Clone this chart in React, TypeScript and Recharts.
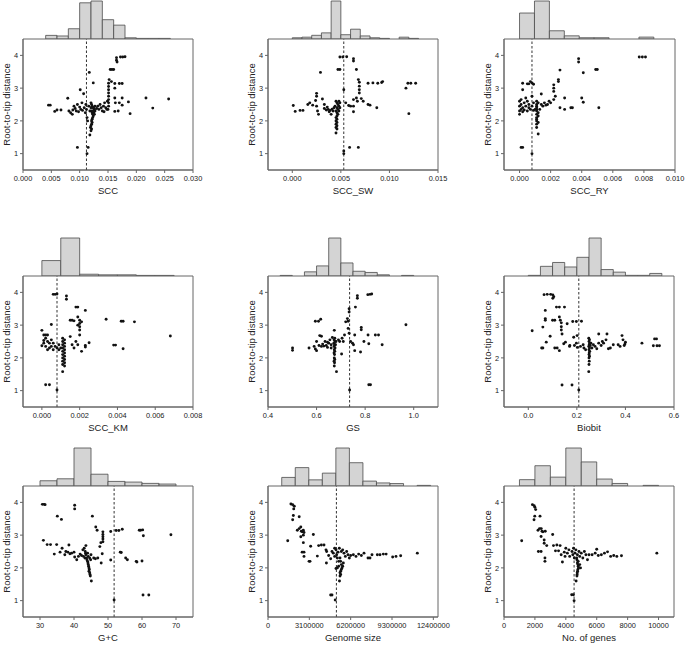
import React from "react";
import {
  ComposedChart,
  ScatterChart,
  Scatter,
  XAxis,
  YAxis,
  ReferenceArea,
  ReferenceLine,
} from "recharts";

type Pt = [number, number];

const FONT = '"Liberation Sans", Arial, Helvetica, sans-serif';

// root-to-tip distance against each genome feature
const sccPoints: Pt[] = [
  [0.0045, 2.48], [0.0048, 2.48], [0.0056, 2.29], [0.006, 2.33], [0.0067, 2.33], [0.0079, 2.69],
  [0.0081, 2.3], [0.0084, 2.25], [0.0087, 2.2], [0.0088, 2.33], [0.009, 2.45], [0.0092, 2.38],
  [0.0094, 2.3], [0.0096, 2.5], [0.0098, 2.28], [0.01, 2.42], [0.0101, 2.95], [0.0102, 2.35],
  [0.0104, 2.55], [0.0105, 2.32], [0.0107, 2.83], [0.0108, 2.4], [0.011, 2.25], [0.0111, 2.5],
  [0.0112, 2.35], [0.0113, 2.1], [0.0114, 2.0], [0.0096, 1.19], [0.0113, 1.0], [0.0115, 1.19],
  [0.0117, 3.48], [0.0124, 3.16], [0.0118, 1.57], [0.0116, 2.45], [0.0118, 2.3],
  [0.012, 2.55], [0.0121, 2.5], [0.0122, 2.45], [0.0123, 2.42], [0.0124, 2.4], [0.0125, 2.38],
  [0.0126, 2.35], [0.0127, 2.3], [0.012, 2.4], [0.0121, 2.3], [0.0122, 2.25], [0.0123, 2.2],
  [0.0124, 2.15], [0.0123, 2.1], [0.0122, 2.05], [0.0121, 2.0], [0.0122, 1.95], [0.0121, 1.9],
  [0.012, 1.85], [0.0119, 1.8], [0.0121, 1.75], [0.012, 1.7], [0.0125, 2.25], [0.0126, 2.2],
  [0.0124, 2.3], [0.0127, 2.45],
  [0.013, 2.38], [0.0132, 2.45], [0.0134, 2.35], [0.0136, 2.5], [0.0138, 2.4], [0.014, 2.3],
  [0.0142, 2.45], [0.0144, 2.55], [0.0146, 2.4], [0.0148, 2.35], [0.0143, 2.28],
  [0.0151, 2.45], [0.0151, 2.55], [0.0151, 2.65], [0.0151, 2.75], [0.0151, 2.85], [0.0151, 2.95],
  [0.0151, 3.05], [0.0151, 3.15], [0.0152, 3.26], [0.015, 2.35], [0.0149, 2.6],
  [0.0154, 3.57], [0.0157, 3.57], [0.016, 3.57], [0.0165, 3.93], [0.0165, 3.85], [0.0166, 3.8],
  [0.0172, 3.95], [0.0176, 3.95], [0.018, 3.96], [0.0156, 3.2], [0.0162, 3.14], [0.017, 3.14],
  [0.0175, 3.14], [0.0162, 3.0], [0.0162, 2.7], [0.0175, 2.7], [0.0163, 2.55], [0.017, 2.55],
  [0.0175, 2.48], [0.0186, 2.58], [0.0189, 2.22], [0.0217, 2.7], [0.0229, 2.39], [0.0257, 2.67],
  [0.0162, 2.29], [0.0168, 2.3],
];

const swPoints: Pt[] = [
  [0.0001, 2.47], [0.0003, 2.29], [0.0008, 2.32], [0.0011, 2.32], [0.0016, 2.5], [0.0018, 2.55],
  [0.0021, 2.48], [0.0024, 2.62], [0.0025, 2.45], [0.0026, 2.3], [0.0027, 2.2], [0.0029, 3.48],
  [0.0025, 2.84], [0.0025, 2.75], [0.0031, 2.67], [0.0033, 2.5], [0.0036, 2.42], [0.0038, 2.28],
  [0.004, 2.2], [0.0033, 2.38], [0.0035, 2.33], [0.0037, 2.35], [0.0039, 2.32], [0.0041, 2.36],
  [0.0042, 2.3], [0.0043, 2.4], [0.0044, 2.45],
  [0.0045, 2.6], [0.0046, 2.55], [0.0047, 2.5], [0.0048, 2.45], [0.0049, 2.4], [0.0046, 2.4],
  [0.0047, 2.35], [0.0045, 2.3], [0.0046, 2.25], [0.0047, 2.2], [0.0046, 2.15], [0.0045, 2.1],
  [0.0046, 2.05], [0.0045, 2.0], [0.0046, 1.95], [0.0045, 1.9], [0.0046, 1.85], [0.0045, 1.8],
  [0.0046, 1.75], [0.0045, 1.63], [0.0048, 2.3], [0.0049, 2.55], [0.0048, 2.6],
  [0.0047, 3.57], [0.0049, 3.57], [0.0049, 3.95], [0.0052, 3.95], [0.0056, 3.96], [0.0053, 1.0],
  [0.0053, 1.08], [0.0053, 2.95], [0.0059, 1.19], [0.0068, 1.19], [0.0063, 3.9], [0.0063, 3.83],
  [0.0066, 3.57], [0.0068, 3.26], [0.0069, 3.18], [0.0069, 3.06], [0.0069, 2.95], [0.0069, 2.85],
  [0.0063, 2.65], [0.0063, 2.45], [0.0063, 2.28], [0.0066, 2.7], [0.0067, 2.6], [0.0071, 2.68],
  [0.0073, 2.6], [0.0058, 2.47], [0.0078, 3.15], [0.0083, 3.16], [0.0088, 3.15], [0.0092, 3.17],
  [0.0093, 3.2], [0.0078, 2.5], [0.008, 2.48], [0.0087, 2.4], [0.0117, 3.0], [0.0119, 3.15],
  [0.0122, 3.15], [0.0127, 3.15], [0.012, 2.22], [0.0055, 2.55], [0.006, 2.45],
];

const ryPoints: Pt[] = [
  [0.0001, 1.19], [0.0002, 1.19], [0.0008, 1.0], [0.0002, 2.95], [0.0002, 3.15], [0.0005, 3.13],
  [0.0006, 3.13], [0.0008, 3.16], [0.0009, 3.12], [0.0007, 3.2],
  [0.0, 2.2], [0.0, 2.3], [0.0, 2.45], [0.0, 2.6], [0.0001, 2.35], [0.0001, 2.5], [0.0001, 2.65],
  [0.0002, 2.28], [0.0002, 2.4], [0.0003, 2.55], [0.0003, 2.33], [0.0004, 2.7], [0.0004, 2.45],
  [0.0005, 2.3], [0.0005, 2.6], [0.0006, 2.4], [0.0006, 2.5], [0.0007, 2.35], [0.0008, 2.75],
  [0.0008, 2.45], [0.0009, 2.32], [0.0009, 2.55],
  [0.0011, 2.6], [0.0011, 2.5], [0.0011, 2.45], [0.0011, 2.4], [0.0011, 2.35], [0.0011, 2.3],
  [0.0011, 2.2], [0.0011, 2.1], [0.0011, 2.05], [0.0011, 2.0], [0.0011, 1.9], [0.0011, 1.8],
  [0.0012, 1.6], [0.0012, 2.25], [0.0012, 2.55], [0.001, 2.35], [0.0012, 2.15], [0.0012, 1.95],
  [0.0014, 2.82], [0.0014, 2.5], [0.0015, 2.45], [0.0016, 2.55], [0.0017, 2.48], [0.0018, 2.5],
  [0.0019, 2.6], [0.002, 2.55], [0.0013, 2.35],
  [0.0022, 3.1], [0.0022, 3.0], [0.0022, 2.9], [0.0023, 2.75], [0.0022, 2.65], [0.0025, 3.26],
  [0.0025, 3.2], [0.0026, 3.55], [0.0026, 2.4], [0.0029, 2.7], [0.0029, 2.35], [0.0033, 2.4],
  [0.0034, 2.4], [0.0038, 3.9], [0.0038, 3.8], [0.0041, 3.47], [0.004, 2.7], [0.0041, 2.57],
  [0.0049, 3.57], [0.005, 3.57], [0.0051, 2.4], [0.0077, 3.95], [0.0079, 3.95], [0.0081, 3.95],
];

const kmPoints: Pt[] = [
  [0.0, 2.84], [0.0001, 2.7], [0.0001, 2.53], [0.0, 2.37], [0.0002, 1.18], [0.0004, 1.18],
  [0.0008, 1.02], [0.0006, 3.94], [0.0007, 3.94], [0.0008, 3.95], [0.0005, 3.02],
  [0.0001, 2.45], [0.0002, 2.6], [0.0002, 2.35], [0.0003, 2.7], [0.0003, 2.5], [0.0004, 2.3],
  [0.0004, 2.45], [0.0005, 2.55], [0.0005, 2.35], [0.0006, 2.25], [0.0006, 2.45], [0.0007, 2.35],
  [0.0008, 2.3], [0.0009, 2.25], [0.0009, 2.4], [0.001, 2.3], [0.0003, 2.25], [0.0002, 2.7],
  [0.0011, 2.6], [0.0012, 2.55], [0.0011, 2.5], [0.0012, 2.45], [0.0011, 2.4], [0.0012, 2.35],
  [0.0011, 2.3], [0.0012, 2.25], [0.0011, 2.2], [0.0012, 2.15], [0.0011, 2.1], [0.0012, 2.05],
  [0.0011, 2.0], [0.0012, 1.95], [0.0011, 1.9], [0.0012, 1.85], [0.0011, 1.8], [0.0012, 1.75],
  [0.0011, 1.58],
  [0.0013, 3.89], [0.0013, 3.79], [0.0015, 3.15], [0.0016, 3.15], [0.0017, 3.13], [0.0018, 3.55],
  [0.0019, 3.55], [0.0019, 3.25], [0.002, 3.15], [0.002, 3.05], [0.002, 2.95], [0.002, 2.85],
  [0.002, 2.7], [0.0019, 3.0], [0.0018, 2.5], [0.0019, 2.4], [0.0017, 2.3], [0.0021, 3.1],
  [0.0021, 2.2], [0.0016, 2.4], [0.0015, 2.65], [0.0023, 3.45], [0.0023, 2.33], [0.0023, 2.38],
  [0.0025, 2.46], [0.0034, 3.18], [0.0038, 2.39], [0.0039, 2.39], [0.0042, 3.12], [0.0043, 3.12],
  [0.0043, 2.28], [0.0049, 3.1], [0.0068, 2.67],
];

const gsPoints: Pt[] = [
  [0.501, 2.3], [0.501, 2.23], [0.569, 2.3], [0.595, 3.12], [0.608, 3.12], [0.617, 3.18],
  [0.595, 2.27], [0.6, 2.22], [0.613, 2.68], [0.62, 2.66],
  [0.59, 2.35], [0.6, 2.5], [0.61, 2.38], [0.62, 2.35], [0.625, 2.42], [0.63, 2.36], [0.635, 2.5],
  [0.64, 2.38], [0.645, 2.32], [0.65, 2.45], [0.655, 2.55], [0.66, 2.4], [0.665, 2.62],
  [0.66, 2.3], [0.645, 2.48],
  [0.673, 2.84], [0.675, 2.6], [0.672, 2.55], [0.676, 2.5], [0.671, 2.45], [0.674, 2.4],
  [0.672, 2.35], [0.676, 2.3], [0.673, 2.25], [0.675, 2.2], [0.672, 2.15], [0.674, 2.1],
  [0.673, 2.0], [0.675, 1.95], [0.672, 1.9], [0.674, 1.85], [0.673, 1.75], [0.682, 1.58],
  [0.678, 2.4], [0.68, 2.5],
  [0.69, 2.55], [0.695, 2.5], [0.703, 2.12], [0.71, 2.5], [0.72, 3.1], [0.727, 3.2], [0.73, 3.12],
  [0.734, 3.5], [0.734, 3.4], [0.73, 2.9], [0.734, 2.75], [0.736, 1.02], [0.74, 2.5], [0.748, 2.45],
  [0.752, 2.4], [0.757, 2.7], [0.757, 2.22], [0.76, 3.55], [0.768, 3.9], [0.768, 3.82],
  [0.784, 2.93], [0.784, 2.86], [0.781, 2.18], [0.795, 2.5], [0.811, 3.93], [0.82, 3.94],
  [0.827, 3.95], [0.812, 2.7], [0.815, 2.43], [0.842, 2.7], [0.855, 2.7], [0.87, 2.4],
  [0.815, 1.18], [0.822, 1.18], [0.968, 3.01], [0.715, 2.7], [0.705, 2.6],
];

const biobitPoints: Pt[] = [
  [0.016, 2.83], [0.055, 2.3], [0.06, 2.3], [0.06, 2.94], [0.07, 3.15], [0.07, 3.2], [0.07, 3.45],
  [0.065, 3.93], [0.078, 3.94], [0.092, 3.94], [0.101, 3.92], [0.105, 3.87], [0.101, 3.82],
  [0.074, 2.48], [0.09, 2.66], [0.1, 3.15], [0.109, 3.15], [0.109, 2.3], [0.119, 2.3],
  [0.116, 3.55], [0.128, 3.55], [0.149, 3.55], [0.128, 3.25], [0.132, 3.15], [0.136, 3.07],
  [0.136, 2.95], [0.136, 2.85], [0.139, 2.73], [0.139, 1.17], [0.18, 1.17], [0.128, 2.22],
  [0.146, 2.43], [0.153, 2.48], [0.16, 3.04], [0.171, 2.38], [0.183, 3.11], [0.187, 2.63],
  [0.198, 3.11], [0.201, 2.68], [0.198, 2.45], [0.202, 2.32], [0.208, 1.02], [0.219, 3.12],
  [0.226, 2.4], [0.229, 2.3], [0.236, 2.25], [0.17, 2.35], [0.19, 2.38], [0.215, 2.35],
  [0.249, 2.6], [0.252, 2.55], [0.25, 2.5], [0.253, 2.45], [0.251, 2.4], [0.249, 2.35],
  [0.252, 2.3], [0.25, 2.25], [0.253, 2.2], [0.251, 2.15], [0.25, 2.1], [0.252, 2.05],
  [0.25, 2.0], [0.251, 1.9], [0.25, 1.8], [0.249, 1.58], [0.255, 2.38], [0.258, 2.45],
  [0.262, 2.3], [0.268, 2.4], [0.275, 2.35], [0.282, 2.28], [0.29, 2.73], [0.29, 2.45],
  [0.3, 2.38], [0.305, 2.5], [0.31, 2.45], [0.324, 2.73], [0.32, 2.55], [0.33, 2.28],
  [0.338, 2.3], [0.35, 2.4], [0.37, 2.4], [0.378, 2.35], [0.386, 2.68], [0.39, 2.55],
  [0.395, 2.38], [0.398, 2.42], [0.4, 2.48], [0.468, 2.45], [0.515, 2.37], [0.52, 2.58],
  [0.528, 2.58], [0.53, 2.37], [0.54, 2.37],
];

const gcPoints: Pt[] = [
  [30.7, 3.94], [31.2, 3.94], [31.5, 3.93], [31.0, 2.84], [32.1, 2.71], [33.1, 2.71], [34.2, 2.42],
  [34.9, 2.71], [35.1, 3.58], [35.9, 2.48], [36.3, 3.48], [36.5, 2.6], [37.3, 2.4], [37.6, 2.5],
  [38.2, 2.48], [38.8, 2.43], [38.5, 2.7], [39.3, 2.45], [40.0, 2.48], [40.2, 2.33], [40.2, 3.91],
  [40.2, 3.8], [40.8, 2.25], [41.3, 2.35], [41.8, 2.42], [42.2, 2.38], [42.6, 2.55], [43.0, 2.6],
  [42.8, 2.35], [43.4, 2.45], [43.2, 2.3], [43.5, 2.68],
  [43.3, 2.5], [43.5, 2.4], [43.7, 2.3], [43.8, 2.25], [44.0, 2.2], [44.1, 2.15], [44.2, 2.1],
  [44.3, 2.05], [44.4, 2.0], [44.5, 1.95], [44.4, 1.9], [44.6, 1.85], [44.7, 1.8], [44.8, 1.75],
  [45.1, 1.6], [44.0, 2.45], [44.2, 2.35], [44.6, 2.3], [44.9, 2.25], [45.0, 2.4],
  [45.4, 3.58], [45.8, 2.3], [46.3, 2.28], [47.0, 2.3], [46.4, 3.25], [46.8, 3.15], [47.6, 2.65],
  [47.9, 2.77], [48.5, 3.1], [48.5, 3.02], [48.5, 2.95], [48.5, 2.88], [48.5, 2.8], [48.0, 2.15],
  [48.3, 2.43], [50.8, 2.24], [50.8, 3.11], [51.8, 1.02], [52.4, 3.14], [53.2, 3.14], [53.6, 2.48],
  [53.9, 2.47], [54.2, 3.18], [55.2, 2.3], [55.7, 2.25], [58.3, 2.2], [58.5, 2.18], [59.2, 3.15],
  [59.6, 3.15], [60.2, 3.16], [60.0, 2.21], [60.4, 2.98], [60.3, 1.17], [62.0, 1.17], [68.5, 3.01],
];

const sizePoints: Pt[] = [
  [1.48e6, 2.83], [1.72e6, 3.95], [1.85e6, 3.93], [1.97e6, 3.88], [1.93e6, 3.8], [1.85e6, 3.47],
  [1.9e6, 3.6], [2.34e6, 3.56], [2.2e6, 3.15], [2.34e6, 3.2], [2.46e6, 3.25], [2.5e6, 3.12],
  [2.58e6, 3.1], [2.7e6, 3.08], [2.65e6, 3.15], [2.46e6, 2.95], [2.65e6, 3.0], [2.65e6, 2.77],
  [2.56e6, 2.48], [2.7e6, 2.48], [2.7e6, 2.35], [3.08e6, 2.2], [3.15e6, 2.2], [3.2e6, 2.66],
  [3.4e6, 3.02], [3.7e6, 2.36], [3.8e6, 2.68], [4.0e6, 2.7], [4.2e6, 2.7], [4.35e6, 2.55],
  [4.4e6, 2.5], [4.38e6, 2.15], [4.55e6, 2.38], [4.7e6, 2.28], [4.7e6, 1.17], [4.8e6, 1.17],
  [5.04e6, 1.02],
  [4.8e6, 2.5], [4.9e6, 2.45], [5.0e6, 2.6], [5.0e6, 2.35], [5.1e6, 2.55], [5.15e6, 2.4],
  [5.2e6, 2.3], [5.25e6, 2.48], [5.3e6, 2.2], [5.35e6, 2.6], [5.5e6, 2.5], [5.6e6, 2.55],
  [5.7e6, 2.45], [5.8e6, 2.35], [5.9e6, 2.5], [6.0e6, 2.4], [6.1e6, 2.3], [5.3e6, 2.05],
  [5.2e6, 2.0], [5.1e6, 1.98],
  [5.4e6, 2.3], [5.45e6, 2.2], [5.5e6, 2.1], [5.55e6, 2.0], [5.5e6, 1.95], [5.45e6, 1.9],
  [5.4e6, 1.85], [5.45e6, 1.8], [5.4e6, 1.75], [5.36e6, 1.6], [5.6e6, 2.05], [5.65e6, 2.15],
  [6.2e6, 2.38], [6.4e6, 2.4], [6.6e6, 2.35], [6.8e6, 2.42], [7.0e6, 2.38], [7.2e6, 2.45],
  [7.5e6, 2.3], [7.65e6, 2.3], [7.8e6, 2.4], [8.2e6, 2.4], [8.4e6, 2.4], [8.65e6, 2.42],
  [8.86e6, 2.42], [9.35e6, 2.33], [9.6e6, 2.35], [9.95e6, 2.37], [11.2e6, 2.45],
];

const genePoints: Pt[] = [
  [1145, 2.83], [1840, 3.93], [1950, 3.9], [2000, 3.85], [2050, 3.78], [1944, 3.47], [1990, 3.58],
  [2330, 3.58], [2200, 3.15], [2300, 3.2], [2410, 3.2], [2460, 3.12], [2520, 3.1], [2670, 3.12],
  [2400, 2.96], [2225, 2.5], [2400, 2.5], [2600, 2.85], [2600, 2.75], [2650, 2.3], [2650, 2.2],
  [2765, 2.68], [3150, 3.02], [3200, 2.68], [3420, 2.7], [3630, 2.68], [3330, 2.52], [3530, 2.52],
  [3780, 2.18], [3900, 2.48], [3700, 2.4], [3950, 2.35], [4000, 2.6], [4100, 2.45], [4200, 2.55],
  [4250, 2.35], [4380, 1.18], [4490, 1.18], [4535, 1.0],
  [4400, 2.5], [4450, 2.4], [4500, 2.6], [4550, 2.3], [4600, 2.45], [4650, 2.55], [4700, 2.3],
  [4750, 2.4], [4800, 2.2], [4850, 2.5], [4900, 2.35], [5000, 2.45], [5100, 2.3], [5200, 2.5],
  [5300, 2.4], [5400, 2.25], [5500, 2.4],
  [4720, 2.25], [4750, 2.15], [4780, 2.1], [4800, 2.05], [4820, 2.0], [4780, 1.95], [4760, 1.9],
  [4740, 1.85], [4730, 1.8], [4720, 1.75], [4665, 1.6], [4900, 2.1], [4950, 2.0],
  [5700, 2.4], [5900, 2.45], [6000, 2.57], [6100, 2.38], [6300, 2.4], [6500, 2.45], [6700, 2.49],
  [6900, 2.35], [7100, 2.38], [7300, 2.35], [7600, 2.37], [9890, 2.45],
];

// marginal histograms: bin edges and counts
const sccBins = [0.004, 0.006, 0.008, 0.01, 0.012, 0.014, 0.016, 0.018, 0.02, 0.022, 0.024, 0.026];
const sccCounts = [6, 5, 17, 60, 63, 32, 23, 2, 1, 1, 1];
const swBins = [0, 0.001, 0.002, 0.003, 0.004, 0.005, 0.006, 0.007, 0.008, 0.009, 0.01, 0.011, 0.012, 0.013];
const swCounts = [2, 3, 6, 10, 62, 7, 16, 5, 2, 1, 0, 3, 1];
const ryBins = [0, 0.00096, 0.00192, 0.00288, 0.00384, 0.0048, 0.00576, 0.00672, 0.00768, 0.00864];
const ryCounts = [41, 60, 13, 5, 2, 2, 0, 0, 3];
const kmBins = [0, 0.001, 0.002, 0.003, 0.004, 0.005, 0.006, 0.007];
const kmCounts = [26, 64, 3, 2, 2, 1, 1];
const gsBins = [0.45, 0.5, 0.55, 0.6, 0.65, 0.7, 0.75, 0.8, 0.85, 0.9, 0.95, 1.0];
const gsCounts = [1, 0, 7, 17, 64, 22, 8, 6, 2, 0, 1];
const biobitBins = [0, 0.05, 0.1, 0.15, 0.2, 0.25, 0.3, 0.35, 0.4, 0.45, 0.5, 0.55];
const biobitCounts = [1, 15, 21, 14, 29, 59, 10, 6, 1, 1, 4];
const gcBins = [30, 35, 40, 45, 50, 55, 60, 65, 70];
const gcCounts = [8, 11, 58, 18, 7, 6, 4, 3];
const sizeBins = [1.03e6, 2.045e6, 3.06e6, 4.075e6, 5.09e6, 6.105e6, 7.12e6, 8.135e6, 9.15e6, 10.165e6, 11.18e6, 12.195e6];
const sizeCounts = [14, 30, 10, 21, 62, 38, 8, 5, 4, 0, 1];
const geneBins = [1000, 2000, 3000, 4000, 5000, 6000, 7000, 8000, 9000, 10000];
const geneCounts = [10, 32, 14, 60, 38, 11, 4, 0, 1];

// x-axis ticks
const sccTicks = [0, 0.005, 0.01, 0.015, 0.02, 0.025, 0.03];
const swTicks = [0, 0.005, 0.01, 0.015];
const ryTicks = [0, 0.002, 0.004, 0.006, 0.008, 0.01];
const kmTicks = [0, 0.002, 0.004, 0.006, 0.008];
const gsTicks = [0.4, 0.6, 0.8, 1.0];
const biobitTicks = [0, 0.2, 0.4, 0.6];
const gcTicks = [30, 40, 50, 60, 70];
const sizeTicks = [0, 3100000, 6200000, 9300000, 12400000];
const geneTicks = [0, 2000, 4000, 6000, 8000, 10000];
const yTicks = [1, 2, 3, 4];

const panels = [
  { label: "SCC", domain: [0, 0.03], ticks: sccTicks, digits: 3, points: sccPoints, bins: sccBins, counts: sccCounts, mark: 0.0112 },
  { label: "SCC_SW", domain: [-0.0025, 0.015], ticks: swTicks, digits: 3, points: swPoints, bins: swBins, counts: swCounts, mark: 0.0053 },
  { label: "SCC_RY", domain: [-0.001, 0.01], ticks: ryTicks, digits: 3, points: ryPoints, bins: ryBins, counts: ryCounts, mark: 0.0008 },
  { label: "SCC_KM", domain: [-0.001, 0.008], ticks: kmTicks, digits: 3, points: kmPoints, bins: kmBins, counts: kmCounts, mark: 0.0008 },
  { label: "GS", domain: [0.4, 1.1], ticks: gsTicks, digits: 1, points: gsPoints, bins: gsBins, counts: gsCounts, mark: 0.736 },
  { label: "Biobit", domain: [-0.1, 0.6], ticks: biobitTicks, digits: 1, points: biobitPoints, bins: biobitBins, counts: biobitCounts, mark: 0.208 },
  { label: "G+C", domain: [25, 75], ticks: gcTicks, digits: 0, points: gcPoints, bins: gcBins, counts: gcCounts, mark: 51.8 },
  { label: "Genome size", domain: [0, 12750000], ticks: sizeTicks, digits: 0, points: sizePoints, bins: sizeBins, counts: sizeCounts, mark: 5.13e6 },
  { label: "No. of genes", domain: [0, 11000], ticks: geneTicks, digits: 0, points: genePoints, bins: geneBins, counts: geneCounts, mark: 4535 },
];

// plot box position on the page: left, top, width
const slots = [
  [23, 39, 170], [268, 39, 170], [504, 39, 171],
  [23, 276, 170], [268, 276, 170], [504, 276, 170],
  [23, 486, 170], [268, 486, 170], [504, 486, 170],
];

const AXIS_W = 22;
const RIGHT = 18;
const HIST_H = 40;
const BOX_H = 131;
const XAXIS_H = 30;
const LINE = "#666";
const INK = "#222";

const Dot = (props: any) => <circle cx={props.cx} cy={props.cy} r={1.45} fill="#111" />;

function Panel({ p, slot }: { p: (typeof panels)[number]; slot: number[] }) {
  const [left, top, w] = slot;
  const chartW = AXIS_W + w + RIGHT;
  const maxN = Math.max(...p.counts);
  const bars = p.counts
    .map((n, i) => ({ x1: p.bins[i], x2: p.bins[i + 1], n }))
    .filter((b) => b.n > 0);
  const data = p.points.map(([x, y]) => ({ x, y }));

  return (
    <div style={{ position: "absolute", left: left - AXIS_W, top: top - HIST_H, width: chartW }}>
      <div style={{ position: "absolute", left: 0, top: 0 }}>
        <ComposedChart width={chartW} height={HIST_H} margin={{ top: 2, right: RIGHT, left: AXIS_W, bottom: 0 }}>
          <XAxis type="number" dataKey="x" domain={p.domain} allowDataOverflow hide />
          <YAxis type="number" domain={[0, maxN]} allowDataOverflow hide />
          {bars.map((b, i) => (
            <ReferenceArea
              key={i}
              x1={b.x1}
              x2={b.x2}
              y1={0}
              y2={b.n}
              fill="#d4d4d4"
              fillOpacity={1}
              stroke="#4a4a4a"
              strokeWidth={0.8}
              ifOverflow="visible"
            />
          ))}
        </ComposedChart>
      </div>
      <div style={{ position: "absolute", left: 0, top: HIST_H - 2 }}>
        <ScatterChart width={chartW} height={2 + BOX_H + XAXIS_H} margin={{ top: 2, right: RIGHT, left: 0, bottom: 0 }}>
          <XAxis
            type="number"
            dataKey="x"
            domain={p.domain}
            ticks={p.ticks}
            interval={0}
            allowDataOverflow
            tickFormatter={(v: number) => v.toFixed(p.digits)}
            height={XAXIS_H}
            stroke={LINE}
            tickSize={3}
            tickMargin={3}
            tick={{ fontSize: 7.4, fill: INK }}
            label={{ value: p.label, position: "insideBottom", offset: 6, fontSize: 9.5, fill: INK }}
          />
          <YAxis
            type="number"
            dataKey="y"
            domain={[0.5, 4.5]}
            ticks={yTicks}
            interval={0}
            allowDataOverflow
            width={AXIS_W}
            stroke={LINE}
            tickSize={3}
            tickMargin={2}
            tick={{ fontSize: 7.4, fill: INK }}
            label={{
              value: "Root-to-tip distance",
              angle: -90,
              position: "insideLeft",
              offset: 6,
              fontSize: 9.5,
              fill: INK,
              style: { textAnchor: "middle" },
            }}
          />
          <ReferenceArea x1={p.domain[0]} x2={p.domain[1]} y1={0.5} y2={4.5} fill="none" stroke={LINE} />
          <ReferenceLine x={p.mark} stroke="#333" strokeDasharray="2.5 2" />
          <Scatter data={data} fill="#111" shape={Dot} isAnimationActive={false} />
        </ScatterChart>
      </div>
    </div>
  );
}

export default function App() {
  return (
    <div
      style={{
        position: "absolute",
        left: 0,
        top: 0,
        width: 685,
        height: 645,
        background: "#fff",
        fontFamily: FONT,
        overflow: "hidden",
      }}
    >
      {panels.map((p, i) => (
        <Panel key={p.label} p={p} slot={slots[i]} />
      ))}
    </div>
  );
}
